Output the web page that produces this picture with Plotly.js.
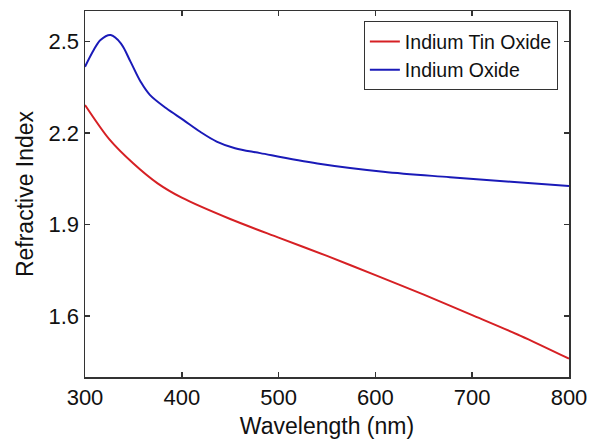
<!DOCTYPE html>
<html>
<head>
<meta charset="utf-8">
<script src="https://cdn.plot.ly/plotly-3.0.1.min.js"></script>
<style>html,body{margin:0;padding:0;background:#fff;}#chart{width:592px;height:448px;}</style>
</head>
<body>
<div id="chart"></div>
<script>
const itoWavelength = [300, 325, 350, 375, 400, 450, 500, 550, 600, 650, 700, 750, 800];
const itoIndex = [2.292, 2.180, 2.100, 2.035, 1.988, 1.918, 1.857, 1.797, 1.734, 1.670, 1.603, 1.535, 1.460];
const ioWavelength = [300, 309, 316, 326.5, 337, 347, 357.5, 367, 384, 401.5, 419, 436, 455, 481, 540, 608, 677, 740, 800];
const ioIndex = [2.417, 2.472, 2.505, 2.521, 2.494, 2.434, 2.368, 2.325, 2.281, 2.243, 2.204, 2.172, 2.150, 2.134, 2.100, 2.073, 2.055, 2.040, 2.026];
const xTicks = [300, 400, 500, 600, 700, 800];
const yTicks = [1.6, 1.9, 2.2, 2.5];
const yTickText = ['1.6', '1.9', '2.2', '2.5'];

const font = 'Arial, "Liberation Sans", sans-serif';
const traces = [
  {x: itoWavelength, y: itoIndex, name: 'Indium Tin Oxide', mode: 'lines',
   line: {color: '#d62024', width: 2, shape: 'spline', smoothing: 0.8}},
  {x: ioWavelength, y: ioIndex, name: 'Indium Oxide', mode: 'lines',
   line: {color: '#1a1ab8', width: 2, shape: 'spline', smoothing: 1}}
];
const axisCommon = {
  showline: true, mirror: 'ticks', linecolor: '#333', linewidth: 1.5,
  ticks: 'inside', ticklen: 5, tickwidth: 1.5, tickcolor: '#333',
  showgrid: false, zeroline: false,
  tickfont: {family: font, size: 22, color: '#111'}
};
const layout = {
  width: 592, height: 448,
  margin: {l: 85, r: 23, t: 11, b: 71},
  paper_bgcolor: '#fff', plot_bgcolor: '#fff',
  showlegend: true,
  legend: {x: 0.977, xanchor: 'right', y: 0.972, yanchor: 'top',
    bordercolor: '#333', borderwidth: 1, bgcolor: '#fff',
    font: {family: font, size: 19.5, color: '#111'}, tracegroupgap: 0},
  xaxis: Object.assign({}, axisCommon, {range: [300, 800], tickvals: xTicks,
    title: {text: 'Wavelength (nm)', font: {family: font, size: 23, color: '#111'}, standoff: 9}}),
  yaxis: Object.assign({}, axisCommon, {range: [1.4, 2.6], tickvals: yTicks, ticktext: yTickText,
    title: {text: 'Refractive Index', font: {family: font, size: 23, color: '#111'}, standoff: 8}})
};
Plotly.newPlot('chart', traces, layout, {staticPlot: true});
</script>
</body>
</html>
